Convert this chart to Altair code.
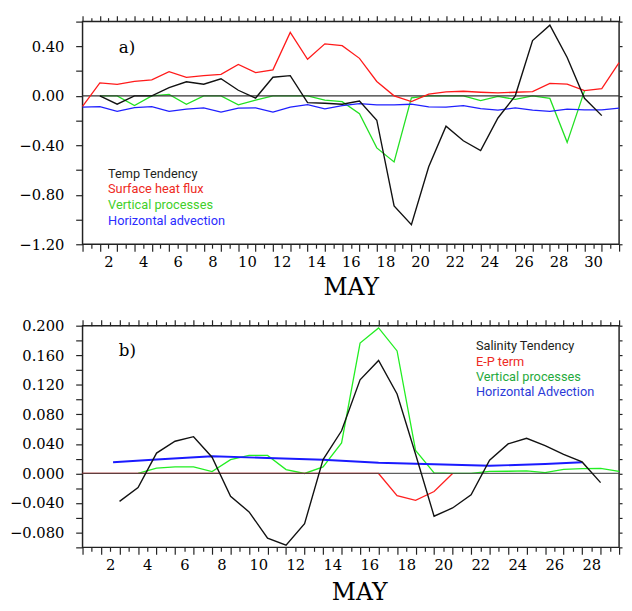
import altair as alt
import pandas as pd

# ---------------- Panel a) : temperature budget ----------------
# x positions are day values (points sit half-way between the labelled days)
a_temp_x = [d + 0.5 for d in range(1, 31)]
a_temp = [0.0, -0.068, 0.0, 0.0, 0.066, 0.114, 0.094, 0.138, 0.045, -0.018,
          0.15, 0.163, -0.055, -0.06, -0.068, -0.042, -0.197, -0.89, -1.042, -0.574,
          -0.245, -0.363, -0.442, -0.179, 0.0, 0.447, 0.571, 0.31, -0.02, -0.16]

a_shf_x = [d + 0.5 for d in range(0, 32)]
a_shf = [-0.085, 0.105, 0.092, 0.116, 0.129, 0.195, 0.15, 0.163, 0.174, 0.253,
         0.187, 0.21, 0.513, 0.295, 0.42, 0.405, 0.303, 0.116, 0.0, -0.047,
         0.013, 0.032, 0.037, 0.029, 0.024, 0.029, 0.034, 0.1, 0.095, 0.042,
         0.058, 0.268]

a_vert_x = [d + 0.5 for d in range(1, 30)]
a_vert = [0.0, 0.0, -0.079, 0.0, 0.011, -0.068, 0.0, 0.0, -0.073, -0.034,
          0.0, 0.0, 0.0, -0.034, -0.047, -0.145, -0.421, -0.534, -0.016, 0.0,
          0.0, 0.0, -0.039, -0.005, -0.029, 0.0, -0.021, -0.376, 0.04]

a_hadv_x = [d + 0.5 for d in range(0, 32)]
a_hadv = [-0.092, -0.087, -0.126, -0.095, -0.087, -0.126, -0.108, -0.097, -0.131, -0.1,
          -0.097, -0.131, -0.092, -0.072, -0.105, -0.079, -0.063, -0.074, -0.074, -0.068,
          -0.089, -0.092, -0.079, -0.103, -0.116, -0.097, -0.116, -0.126, -0.108, -0.113,
          -0.113, -0.1]

a_legend = ["Temp Tendency", "Surface heat flux", "Vertical processes", "Horizontal advection"]
a_legend_colors = ["#231f20", "#ee2a1e", "#3fd02a", "#2b2bff"]

# ---------------- Panel b) : salinity budget ----------------
b_sal_x = [d + 0.5 for d in range(2, 29)]
b_sal = [-0.0378, -0.019, 0.0276, 0.0436, 0.0498, 0.022, -0.031, -0.052, -0.0876, -0.097,
         -0.068, 0.0187, 0.0578, 0.1267, 0.153, 0.1076, 0.026, -0.0578, -0.0467, -0.029,
         0.018, 0.040, 0.0476, 0.0378, 0.026, 0.0156, -0.0124]

b_ep_x = [d + 0.5 for d in range(0, 21)]
b_ep = [0.0, 0.0, 0.0, 0.0, 0.0, 0.0, 0.0, 0.0, 0.0, 0.0,
        0.0, 0.0, 0.0, 0.0, 0.0, 0.0, 0.0, -0.030, -0.0364, -0.0244, 0.0]

b_vert_x = [d + 0.5 for d in range(3, 30)]
b_vert = [0.0, 0.0071, 0.0089, 0.0089, 0.0025, 0.0187, 0.0244, 0.0244, 0.0053, 0.0,
          0.0089, 0.0413, 0.1764, 0.1969, 0.1658, 0.0311, 0.0009, 0.0, 0.0, 0.0027,
          0.003, 0.0036, 0.0013, 0.0055, 0.0065, 0.007, 0.003]

b_hadv_x = [2.15, 4.5, 7.5, 10.5, 13.5, 16.5, 19.5, 22.5, 25.5, 27.5]
b_hadv = [0.0152, 0.0188, 0.0232, 0.021, 0.0186, 0.0146, 0.0124, 0.0104, 0.0128, 0.0153]

b_legend = ["Salinity Tendency", "E-P term", "Vertical processes", "Horizontal Advection"]
b_legend_colors = ["#231f20", "#ee2a24", "#1faa3c", "#2b3ad8"]

SERIF = "DejaVu Serif"
LEGEND_FONT = "Roboto"


def make_panel(xmax, ydom, yvals, yfmt, ymult, series, zero_color, zero_opacity,
               legend, legend_colors, legend_x, legend_y0, legend_dy,
               panel_label, label_y, title_x, title_pad, width, height):
    xs = alt.Scale(domain=[0.5, xmax + 0.5], nice=False, zero=False)
    ys = alt.Scale(domain=ydom, nice=False, zero=False)
    days = list(range(1, xmax + 1))
    halves = [d + 0.5 for d in range(0, xmax + 1)]
    lab_expr = "datum.value % 2 == 0 ? '' + datum.value : ''"
    ylab_expr = ("round(datum.value*%d) %% 2 == 0 ? format(datum.value, '%s') : ''"
                 % (ymult, yfmt))

    x_axes = [
        alt.Axis(orient="bottom", values=days, tickSize=4, labelExpr=lab_expr,
                 labelOverlap=False, labelFlush=False, labelPadding=7,
                 title="MAY", titlePadding=title_pad, titleX=title_x),
        alt.Axis(orient="bottom", values=halves, tickSize=7, labels=False, title=None),
        alt.Axis(orient="top", values=days, tickSize=4, labels=False, title=None),
        alt.Axis(orient="top", values=halves, tickSize=6, labels=False, title=None),
    ]
    y_axes = [
        alt.Axis(orient="left", values=yvals, tickSize=7, labelExpr=ylab_expr,
                 labelOverlap=False, labelFlush=False, labelPadding=12, title=None),
        alt.Axis(orient="right", values=yvals, tickSize=3, labels=False, title=None),
    ]

    layers = []
    k = 0
    for (sx, sy, color, sw, kind) in series:
        df = pd.DataFrame({"x": sx, "y": sy})
        xa = x_axes[k] if k < len(x_axes) else None
        ya = y_axes[k] if k < len(y_axes) else None
        k += 1
        layers.append(
            alt.Chart(df).mark_line(color=color, strokeWidth=sw).encode(
                x=alt.X("x:Q", scale=xs, axis=xa),
                y=alt.Y("y:Q", scale=ys, axis=ya),
            )
        )
        if kind == "zero_after":
            zdf = pd.DataFrame({"z": [0.0]})
            layers.append(
                alt.Chart(zdf).mark_rule(color=zero_color, strokeWidth=1.3,
                                         opacity=zero_opacity).encode(
                    y=alt.Y("z:Q", scale=ys, axis=None)
                )
            )

    for i, (txt, col) in enumerate(zip(legend, legend_colors)):
        tdf = pd.DataFrame({"t": [txt]})
        layers.append(
            alt.Chart(tdf).mark_text(font=LEGEND_FONT, fontSize=13, align="left",
                                     baseline="middle", color=col).encode(
                x=alt.value(legend_x), y=alt.value(legend_y0 + i * legend_dy),
                text="t:N")
        )
    pdf = pd.DataFrame({"t": [panel_label]})
    layers.append(
        alt.Chart(pdf).mark_text(font=SERIF, fontSize=17, align="left",
                                 baseline="middle", color="black").encode(
            x=alt.value(37), y=alt.value(label_y), text="t:N")
    )

    return alt.layer(*layers).resolve_axis(x="independent", y="independent").properties(
        width=width, height=height)


yvals_a = [round(-1.2 + 0.2 * k, 1) for k in range(10)]
yvals_b = [round(-0.1 + 0.02 * k, 2) for k in range(16)]

top = make_panel(
    31, [-1.2, 0.6], yvals_a, ".2f", 5,
    [
        (a_vert_x, a_vert, "#22e022", 1.3, "zero_after"),
        (a_hadv_x, a_hadv, "#2020ff", 1.3, ""),
        (a_shf_x, a_shf, "#ff1a1a", 1.3, ""),
        (a_temp_x, a_temp, "#111111", 1.4, ""),
    ],
    "#333333", 1.0,
    a_legend, a_legend_colors, 26, 155, 16.1, "a)", 27, 273.5, 6, 547, 227,
)

bottom = make_panel(
    29, [-0.1, 0.2], yvals_b, ".3f", 50,
    [
        (b_vert_x, b_vert, "#22ee22", 1.3, ""),
        (b_ep_x, b_ep, "#ff2020", 1.3, "zero_after"),
        (b_hadv_x, b_hadv, "#1a1aff", 2.0, ""),
        (b_sal_x, b_sal, "#111111", 1.4, ""),
    ],
    "#444444", 0.85,
    b_legend, b_legend_colors, 401, 21, 15.7, "b)", 26, 282, 8, 547, 226,
)

chart = alt.vconcat(top, bottom, spacing=18).properties(
    padding={"left": 0, "top": 0, "right": 0, "bottom": 0}
).configure_view(
    stroke="#222222", strokeWidth=1.5
).configure_axis(
    labelFont=SERIF, labelFontSize=15, labelColor="black",
    tickColor="#222222", tickWidth=1.2, domain=False, grid=False,
    titleFont=SERIF, titleFontSize=24, titleFontWeight="normal", titleColor="black",
)

chart.save("out.html", embed_options={"renderer": "svg", "actions": False})
